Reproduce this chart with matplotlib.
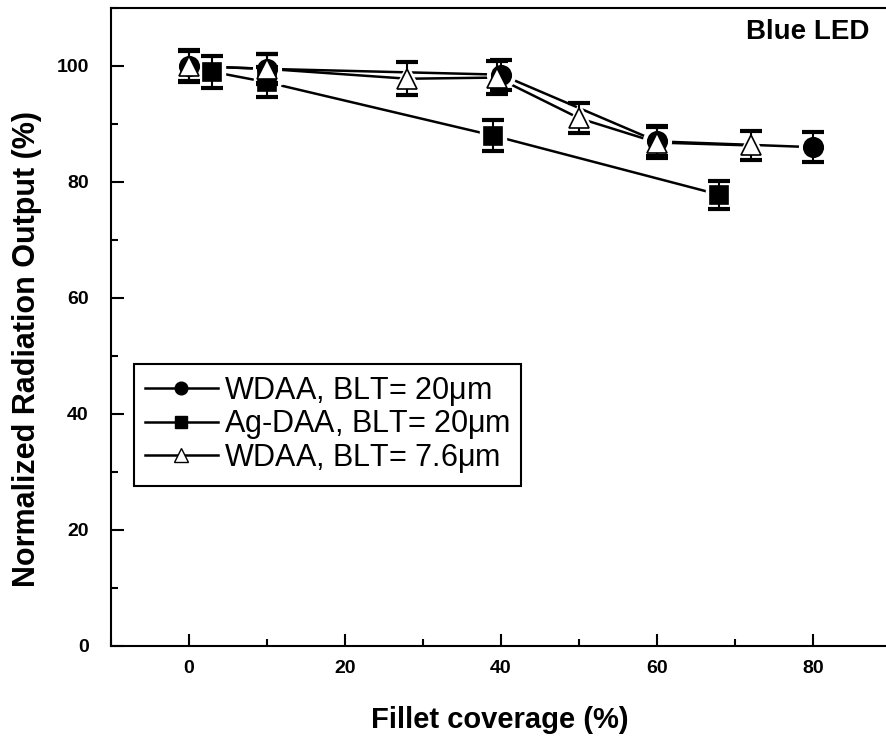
import matplotlib.pyplot as plt
from matplotlib.ticker import MultipleLocator

plt.rcParams['font.family'] = ['Liberation Sans', 'DejaVu Sans']

# WDAA, BLT = 20 um (filled circles)
x_wdaa20 = [0, 10, 40, 60, 80]
y_wdaa20 = [100.0, 99.5, 98.5, 87.0, 86.0]
e_wdaa20 = [2.6, 2.5, 2.6, 2.6, 2.6]

# Ag-DAA, BLT = 20 um (filled squares)
x_ag20 = [3, 10, 39, 68]
y_ag20 = [99.0, 97.2, 88.0, 77.8]
e_ag20 = [2.8, 2.6, 2.6, 2.4]

# WDAA, BLT = 7.6 um (open triangles)
x_wdaa76 = [0, 10, 28, 39.5, 50, 60, 72]
y_wdaa76 = [100.0, 99.5, 97.8, 98.0, 91.0, 86.8, 86.3]
e_wdaa76 = [2.8, 2.6, 2.8, 2.9, 2.6, 2.7, 2.5]

fig = plt.figure(figsize=(8.87, 7.38), dpi=100)
ax = fig.add_axes([0.1251, 0.1247, 0.897, 0.8645])

series = [
    (x_wdaa20, y_wdaa20, e_wdaa20, 'o', 'black', 14, r'WDAA, BLT= 20$\mathregular{\mu}$m'),
    (x_ag20, y_ag20, e_ag20, 's', 'black', 13, r'Ag-DAA, BLT= 20$\mathregular{\mu}$m'),
    (x_wdaa76, y_wdaa76, e_wdaa76, '^', 'white', 15, r'WDAA, BLT= 7.6$\mathregular{\mu}$m'),
]

for x, y, e, m, fc, ms, lab in series:
    # connecting line, with a white halo round each point (Origin-style gap)
    ax.plot(x, y, color='black', lw=1.8, zorder=1)
    ax.plot(x, y, ls='none', marker=m, markersize=ms + 6, markerfacecolor='white',
            markeredgecolor='white', zorder=2)
    ax.errorbar(x, y, yerr=e, fmt='none', ecolor='black', elinewidth=1.5,
                capsize=8, capthick=3, zorder=3)
    ax.plot(x, y, color='black', lw=1.8, marker=m, markersize=ms,
            markerfacecolor=fc, markeredgecolor='black', markeredgewidth=1.2,
            label=lab, ls='none', zorder=4)

ax.set_xlim(-10, 92)
ax.set_ylim(0, 110)
ax.xaxis.set_major_locator(MultipleLocator(20))
ax.xaxis.set_minor_locator(MultipleLocator(10))
ax.yaxis.set_major_locator(MultipleLocator(20))
ax.yaxis.set_minor_locator(MultipleLocator(10))
ax.tick_params(which='both', direction='in', width=1.5, top=False, right=False)
ax.tick_params(which='major', length=9)
ax.tick_params(which='minor', length=5)
ax.tick_params(axis='x', pad=10)
ax.tick_params(axis='y', pad=16)
for lbl in ax.get_xticklabels() + ax.get_yticklabels():
    lbl.set_fontweight('bold')
    lbl.set_fontsize(14)
for s in ax.spines.values():
    s.set_linewidth(1.5)

ax.set_xlabel('Fillet coverage (%)', fontsize=21, fontweight='bold', va='center')
ax.xaxis.set_label_coords(0.489, -0.116)
ax.set_ylabel('Normalized Radiation Output (%)', fontsize=22, fontweight='bold', va='center')
ax.yaxis.set_label_coords(-0.105, 0.466)

ax.text(0.953, 0.962, 'Blue LED', transform=ax.transAxes, ha='right', va='center',
        fontsize=20, fontweight='bold')

# legend shows line - marker - line
handles = [plt.Line2D([], [], color='black', lw=1.8, marker=m, markersize=ms * 0.65,
                      markerfacecolor=fc, markeredgecolor='black', markeredgewidth=1.0)
           for x, y, e, m, fc, ms, lab in series]
labels = [s[-1] for s in series]
leg = ax.legend(handles, labels, loc='upper left', bbox_to_anchor=(0.029, 0.442),
                borderaxespad=0, fontsize=22, handlelength=2.4, handletextpad=0.2,
                labelspacing=0.02, borderpad=0.35, fancybox=False,
                edgecolor='black', framealpha=1)
leg.get_frame().set_linewidth(1.5)

fig.savefig('out.png', dpi=100)
